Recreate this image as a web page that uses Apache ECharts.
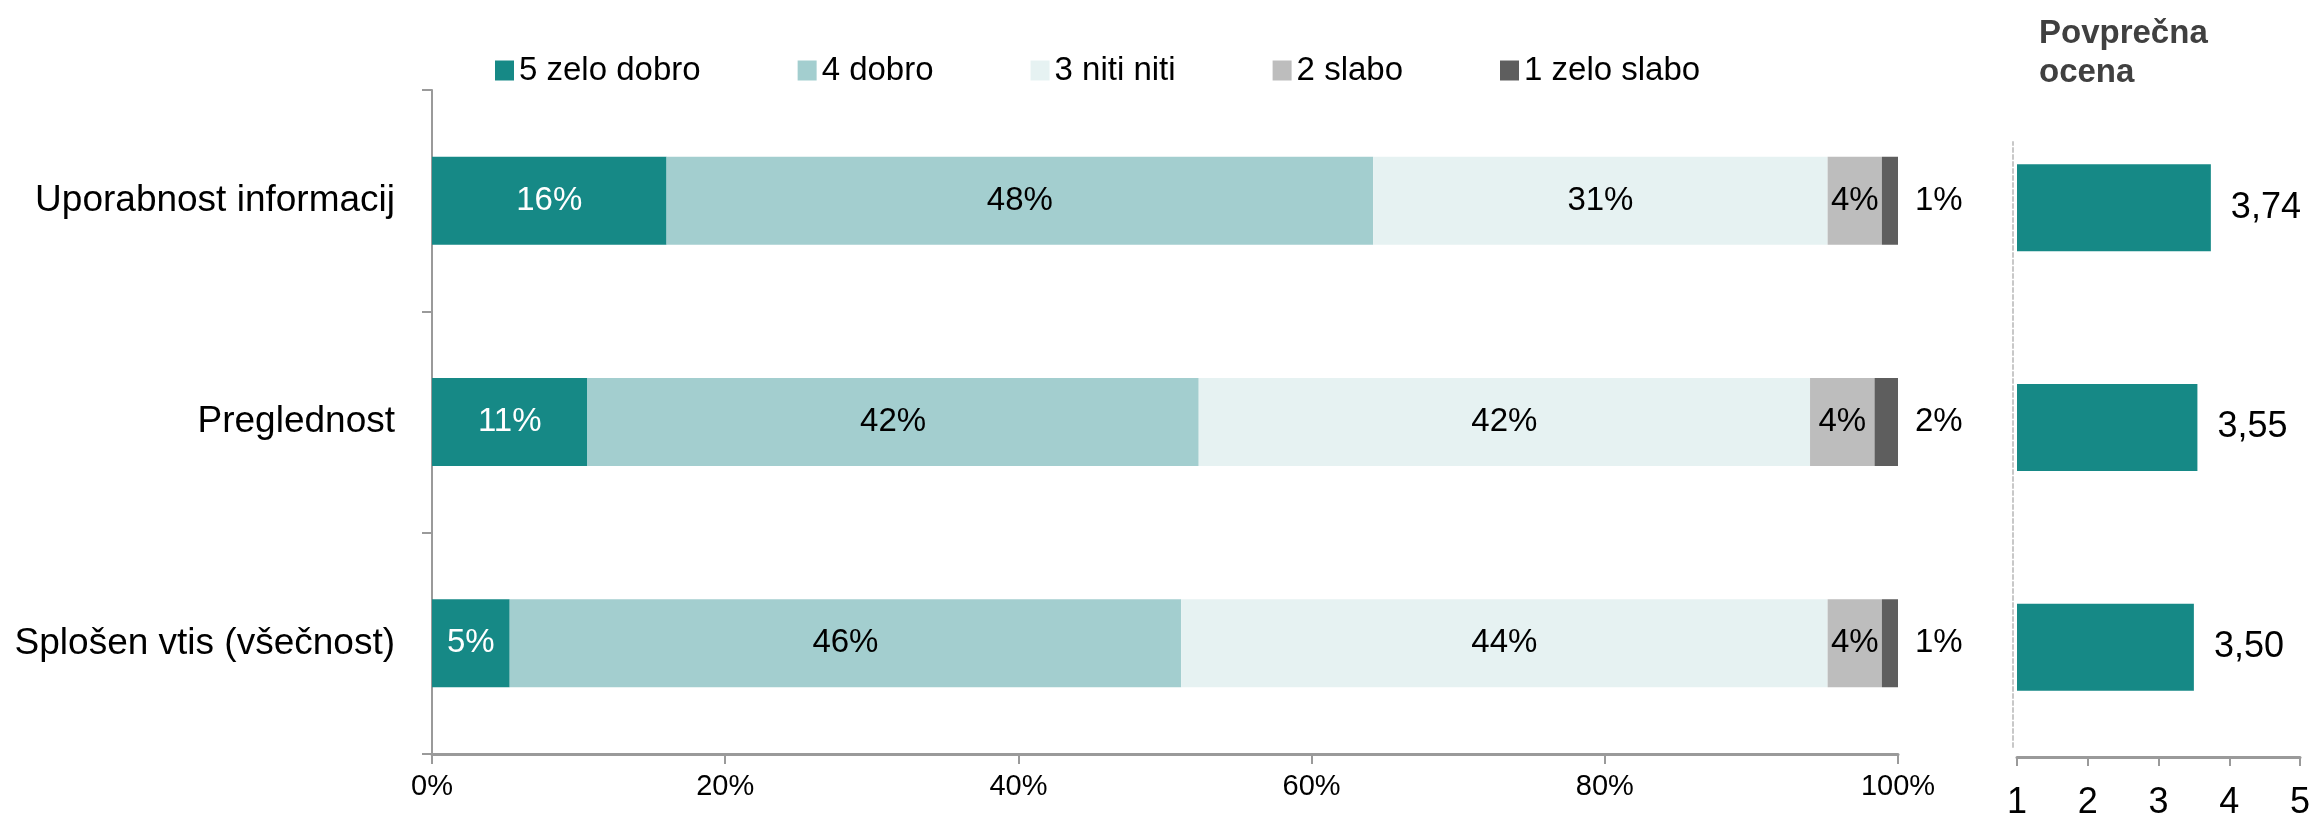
<!DOCTYPE html>
<html>
<head>
<meta charset="utf-8">
<script src="https://cdn.jsdelivr.net/npm/echarts@6/dist/echarts.min.js"></script>
<style>
  html, body { margin: 0; padding: 0; background: #fff; }
  #chart { width: 2309px; height: 813px; }
</style>
</head>
<body>
<div id="chart"></div>
<script>
const categories = ['Uporabnost informacij', 'Preglednost', 'Splošen vtis (všečnost)'];
const seriesNames = ['5 zelo dobro', '4 dobro', '3 niti niti', '2 slabo', '1 zelo slabo'];
const veryGood = [16.0, 10.6, 5.3];
const good = [48.2, 41.7, 45.8];
const neutral = [31.0, 41.7, 44.1];
const poor = [3.7, 4.4, 3.7];
const veryPoor = [1.1, 1.6, 1.1];
const averages = [3.74, 3.55, 3.50];
const pctTicks = [0, 20, 40, 60, 80, 100];
const scoreTicks = [1, 2, 3, 4, 5];

const colors = ['#168986', '#a3cecf', '#e6f2f2', '#bdbdbd', '#5e5e5e'];
const font = 'Liberation Sans, Arial, sans-serif';
const axisGray = '#9a9a9a';

const chart = echarts.init(document.getElementById('chart'));

const stackData = [veryGood, good, neutral, poor, veryPoor];

const stackSeries = stackData.map((values, i) => ({
  name: seriesNames[i],
  type: 'bar',
  stack: 'total',
  xAxisIndex: 0,
  yAxisIndex: 0,
  barWidth: 88,
  data: values,
  itemStyle: { color: colors[i] },
  label: {
    show: true,
    position: i === 4 ? 'right' : 'inside',
    distance: 17,
    fontFamily: font,
    fontSize: 33,
    color: i === 0 ? '#ffffff' : '#000000',
    formatter: p => Math.round(p.value) + '%'
  }
}));

const option = {
  animation: false,
  backgroundColor: '#ffffff',
  textStyle: { fontFamily: font },
  title: {
    text: 'Povprečna\nocena',
    left: 2034,
    top: 9,
    textStyle: {
      fontFamily: font,
      fontSize: 33,
      fontWeight: 'bold',
      color: '#404040',
      lineHeight: 39
    }
  },
  legend: {
    data: seriesNames,
    left: 490,
    top: 49,
    itemWidth: 19,
    itemHeight: 20,
    itemGap: 97,
    icon: 'rect',
    textStyle: { fontFamily: font, fontSize: 33, color: '#000' }
  },
  grid: [
    { left: 432, right: 411, top: 90, bottom: 59, outerBoundsMode: 'none' },
    { left: 2017, right: 9, top: 98, bottom: 56, outerBoundsMode: 'none' },
    { left: 2013, width: 1, top: 142, bottom: 66, outerBoundsMode: 'none' }
  ],
  xAxis: [
    {
      type: 'value',
      gridIndex: 0,
      min: 0,
      max: 100,
      interval: 20,
      axisLine: { show: true, lineStyle: { color: axisGray, width: 3 } },
      axisTick: { show: true, length: 10, lineStyle: { color: axisGray, width: 2 } },
      splitLine: { show: false },
      axisLabel: {
        fontFamily: font,
        fontSize: 29,
        color: '#000',
        margin: 18,
        formatter: v => pctTicks.includes(v) ? v + '%' : ''
      }
    },
    {
      type: 'value',
      gridIndex: 1,
      min: 1,
      max: 5,
      interval: 1,
      axisLine: { show: true, lineStyle: { color: axisGray, width: 3 } },
      axisTick: { show: true, length: 9, lineStyle: { color: axisGray, width: 2 } },
      splitLine: { show: false },
      axisLabel: {
        fontFamily: font,
        fontSize: 36,
        color: '#000',
        margin: 28,
        formatter: v => scoreTicks.includes(v) ? String(v) : ''
      }
    },
    { type: 'value', gridIndex: 2, show: false }
  ],
  yAxis: [
    {
      type: 'category',
      gridIndex: 0,
      data: categories,
      inverse: true,
      axisLine: { show: true, lineStyle: { color: axisGray, width: 2 } },
      axisTick: { show: true, length: 10, lineStyle: { color: axisGray, width: 2 } },
      axisLabel: { fontFamily: font, fontSize: 37, color: '#000', margin: 37 }
    },
    {
      type: 'category',
      gridIndex: 1,
      data: categories,
      inverse: true,
      axisLine: { show: false },
      axisTick: { show: false },
      axisLabel: { show: false }
    },
    {
      type: 'value',
      gridIndex: 2,
      axisLine: { show: true, lineStyle: { color: '#c8c8c8', width: 2, type: [4, 3] } },
      axisTick: { show: false },
      axisLabel: { show: false },
      splitLine: { show: false }
    }
  ],
  series: stackSeries.concat([
    {
      name: 'Povprečna ocena',
      type: 'bar',
      xAxisIndex: 1,
      yAxisIndex: 1,
      barWidth: 87,
      data: averages,
      itemStyle: { color: colors[0] },
      label: {
        show: true,
        position: 'right',
        distance: 20,
        fontFamily: font,
        fontSize: 36,
        color: '#000',
        formatter: p => p.value.toFixed(2).replace('.', ',')
      }
    }
  ])
};

chart.setOption(option);
</script>
</body>
</html>
